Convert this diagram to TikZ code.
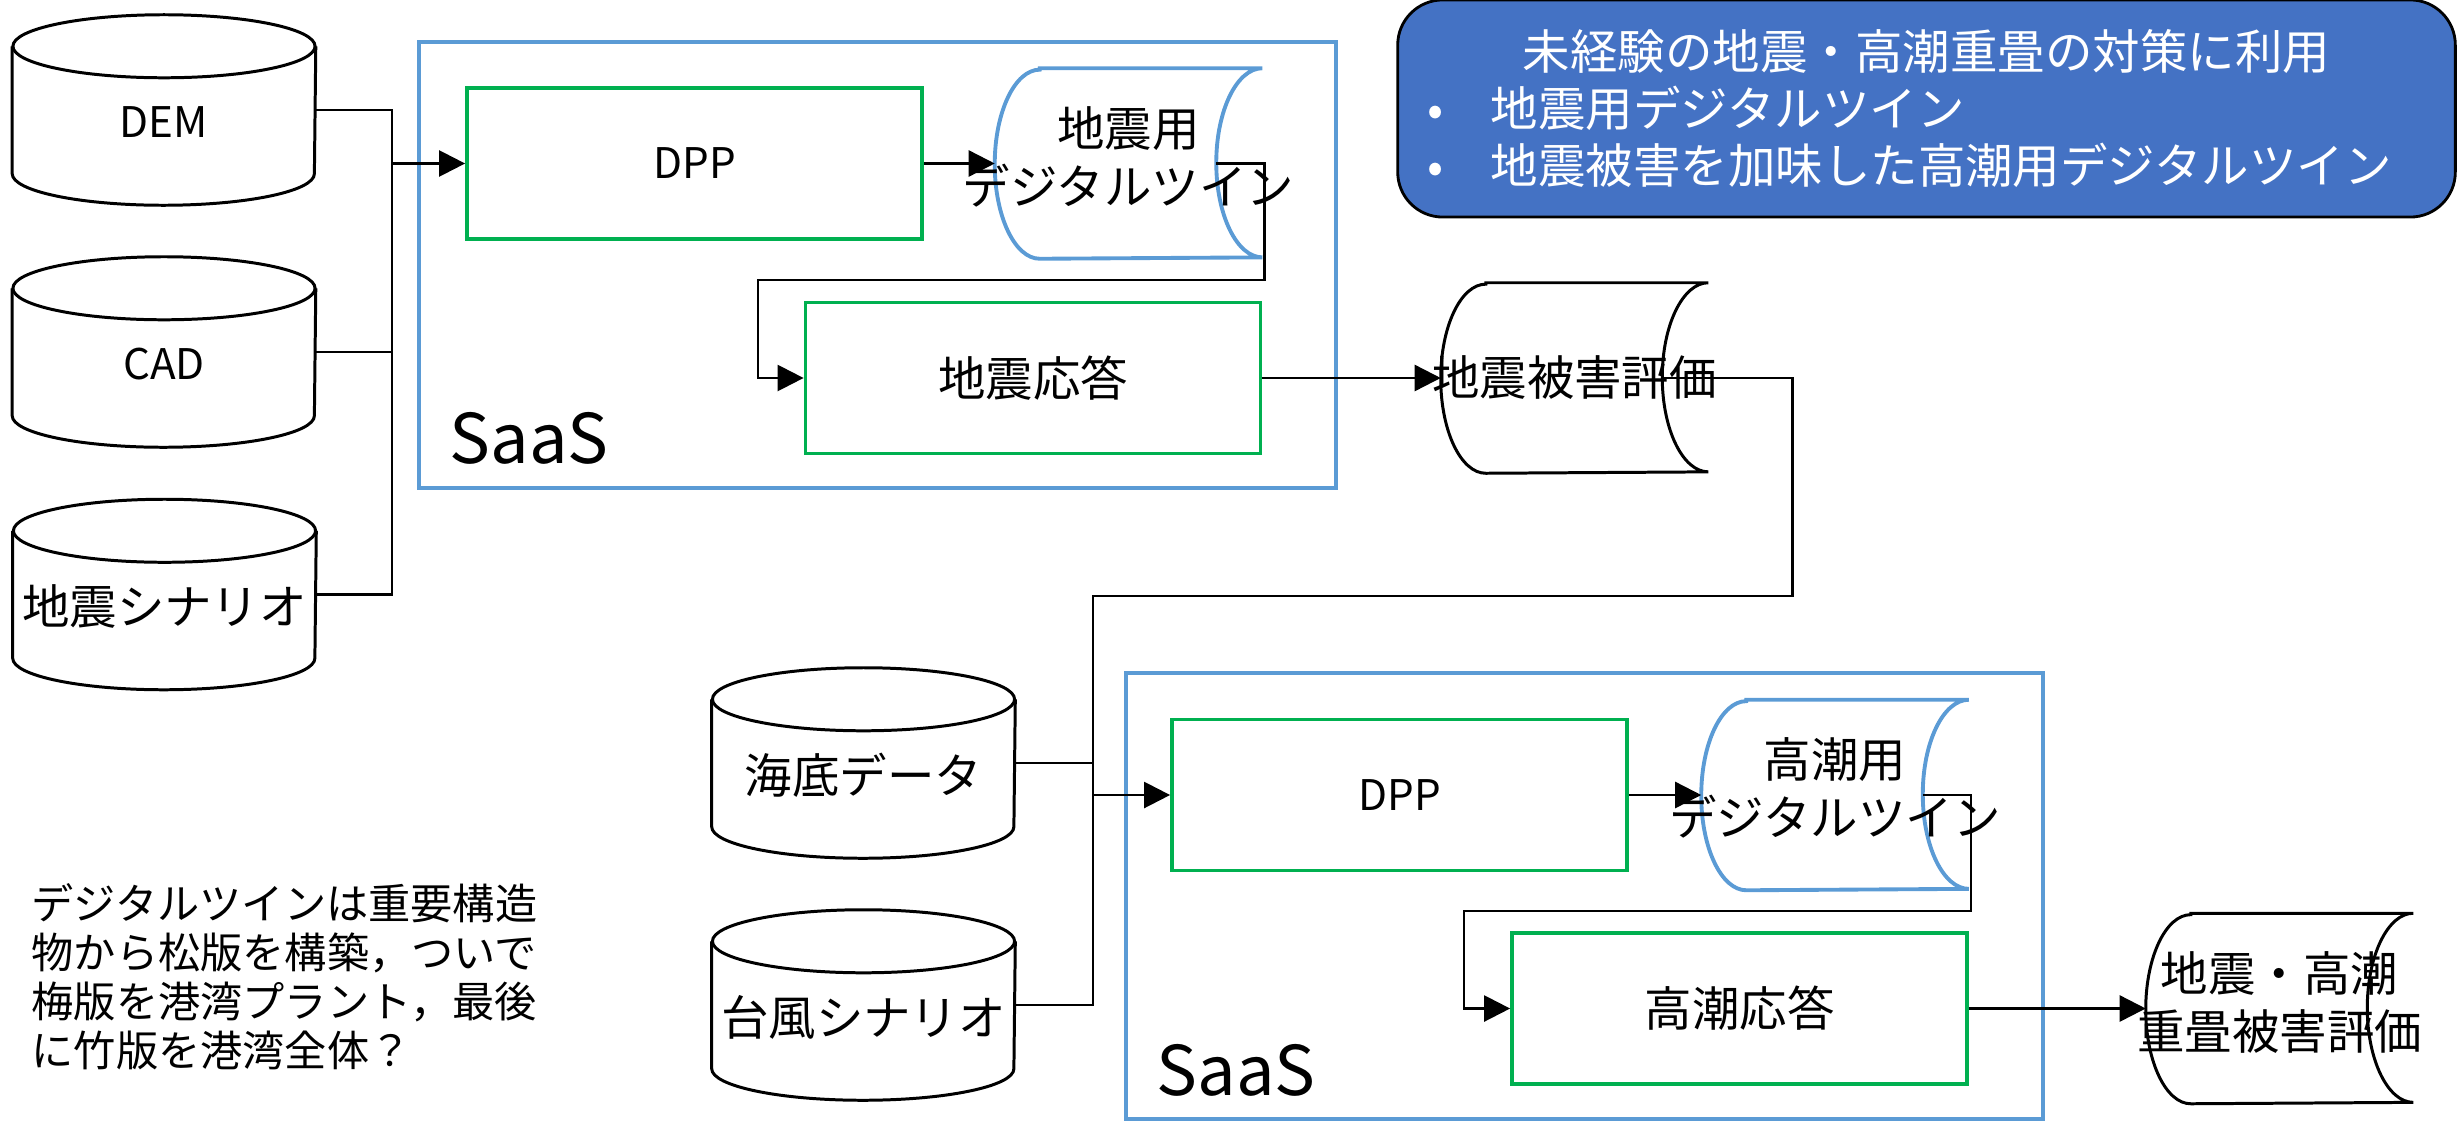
\documentclass[tikz,border=0pt]{standalone}
\usepackage{fontspec}
\setmainfont{Noto Sans CJK JP}
\usetikzlibrary{arrows.meta,backgrounds}
\definecolor{saasblue}{HTML}{5B9BD5}
\definecolor{procgreen}{HTML}{00B050}
\definecolor{goalblue}{HTML}{4472C4}

% outline of a data store (upright can) round a named node
\newcommand\canoutline[1]{%
  \draw[line width=0.85pt] ([yshift=-0.315cm]#1.north) ellipse [x radius=1.51cm,y radius=0.315cm];
  \draw[line width=0.85pt] ([yshift=-0.315cm]#1.north west) -- ([yshift=0.315cm]#1.south west)
    arc[start angle=180,end angle=360,x radius=1.51cm,y radius=0.315cm]
    -- ([yshift=-0.315cm]#1.north east);}
% outline of a lying drum (direct access store) round a named node
\newcommand\drumoutline[2]{%
  \draw[#2] ([xshift=0.45cm]#1.north west) -- (#1.north east)
    arc[start angle=90,end angle=270,x radius=0.46cm,y radius=0.945cm]
    -- ([xshift=0.45cm]#1.south west)
    arc[start angle=270,end angle=90,x radius=0.45cm,y radius=0.945cm] -- cycle;}
\newcommand\sunk[1]{\raisebox{-0.12cm}[\height][\depth]{#1}}
\newcommand\twolines[2]{\makebox[0pt]{\begin{tabular}{@{}c@{}}#1\\#2\end{tabular}}}

\begin{document}
\begin{tikzpicture}[
x=0.01cm,y=-0.01cm,
font=\fontsize{13.5}{16.5}\selectfont,
store/.style={minimum width=3.02cm,minimum height=1.89cm,inner sep=0pt},
latin/.style={font=\fontsize{12}{14}\selectfont},
proc/.style={
  draw=procgreen,
  line width=1pt,
  minimum width=4.55cm,
  minimum height=1.51cm,
  inner sep=0pt
},
saas/.style={draw=saasblue,line width=1.1pt,minimum width=9.17cm,minimum height=4.46cm,inner sep=0pt},
drum/.style={minimum width=2.66cm,minimum height=1.89cm,inner sep=0pt},
tag/.style={font=\fontsize{19.5}{23}\selectfont,anchor=base west,inner sep=0pt},
goal/.style={
  draw=black,
  line width=0.8pt,
  fill=goalblue,
  rounded corners=0.45cm,
  text=white,
  font=\fontsize{13.5}{16.2}\selectfont,
  minimum width=10.57cm,
  minimum height=2.17cm,
  inner sep=0pt
},
link/.style={line width=0.7pt},
arrow/.style={link,-{Triangle[length=0.26cm,width=0.26cm]}}
]
\useasboundingbox (0,0) rectangle (2458,1124);

% SaaS frames
\node[saas] (saasA) at (877.5,265) {};
\node[saas] (saasB) at (1584.5,896) {};
\node[tag] (tagA) at (449,463) {SaaS};
\node[tag] (tagB) at (1156,1095) {SaaS};

% data sources
\node[store,latin] (dem) at (164,110) {\sunk{DEM}};
\node[store,latin] (cad) at (164,352) {\sunk{CAD}};
\node[store] (quakesc) at (164.5,594.5) {\sunk{地震シナリオ}};
\node[store] (seabed) at (863.5,763) {\sunk{海底データ}};
\node[store] (typhoon) at (863.5,1005) {\sunk{台風シナリオ}};
\foreach \c in {dem,cad,quakesc,seabed,typhoon} {\canoutline{\c}}

% processes
\node[proc,latin] (dppA) at (694.5,163.5) {DPP};
\node[proc] (respA) at (1033,378) {地震応答};
\node[proc,latin] (dppB) at (1399.5,795) {DPP};
\node[proc] (respB) at (1739.5,1008.5) {高潮応答};

% twins and results
\node[drum] (twinA) at (1128.5,163.5) {\twolines{地震用}{デジタルツイン}};
\node[drum] (twinB) at (1835,795) {\twolines{高潮用}{デジタルツイン}};
\node[drum] (dmgA) at (1574.5,378) {\makebox[0pt]{地震被害評価}};
\node[drum] (dmgB) at (2279.5,1008.5) {\twolines{地震・高潮}{重畳被害評価}};
\begin{pgfonlayer}{background}
\drumoutline{twinA}{draw=saasblue,line width=1.1pt}
\drumoutline{twinB}{draw=saasblue,line width=1.1pt}
\drumoutline{dmgA}{draw=black,line width=0.85pt}
\drumoutline{dmgB}{draw=black,line width=0.85pt}
\end{pgfonlayer}

% connectors
\coordinate (trunkA) at (392,163.5);
\coordinate (bendA) at (758,280);
\coordinate (bendB) at (1093,596);
\coordinate (trunkB) at (1093,795);
\coordinate (bendC) at (1464,911);
\draw[link] (dem.east) -| (trunkA);
\draw[link] (cad.east) -| (trunkA);
\draw[link] (quakesc.east) -| (trunkA);
\draw[arrow] (trunkA) -- (dppA.west);
\draw[arrow] (dppA.east) -- (twinA.west);
\draw[arrow] ([xshift=-0.46cm]twinA.east) -- ++(48,0) |- (bendA) |- (respA.west);
\draw[arrow] (respA.east) -- (dmgA.west);
\draw[link] ([xshift=-0.44cm]dmgA.east) -- ++(128,0) |- (bendB) -- (trunkB);
\draw[link] (seabed.east) -| (trunkB);
\draw[link] (typhoon.east) -| (trunkB);
\draw[arrow] (trunkB) -- (dppB.west);
\draw[arrow] (dppB.east) -- (twinB.west);
\draw[arrow] ([xshift=-0.46cm]twinB.east) -- ++(48,0) |- (bendC) |- (respB.west);
\draw[arrow] (respB.east) -- (dmgB.west);

% aim of the work
\node[goal] (goal) at (1926.5,108.5) {\parbox{10.57cm}{%
  \centering 未経験の地震・高潮重畳の対策に利用\par
  \raggedright
  \hspace*{0.3cm}\makebox[0.63cm][l]{•}地震用デジタルツイン\par
  \hspace*{0.3cm}\makebox[0.63cm][l]{•}地震被害を加味した高潮用デジタルツイン}};

% remark
\node[anchor=north west,inner sep=0pt,align=left,font=\fontsize{12}{13.9}\selectfont] (memo) at (31,883)
  {デジタルツインは重要構造\\物から松版を構築，ついで\\梅版を港湾プラント，最後\\に竹版を港湾全体？};
\end{tikzpicture}
\end{document}
